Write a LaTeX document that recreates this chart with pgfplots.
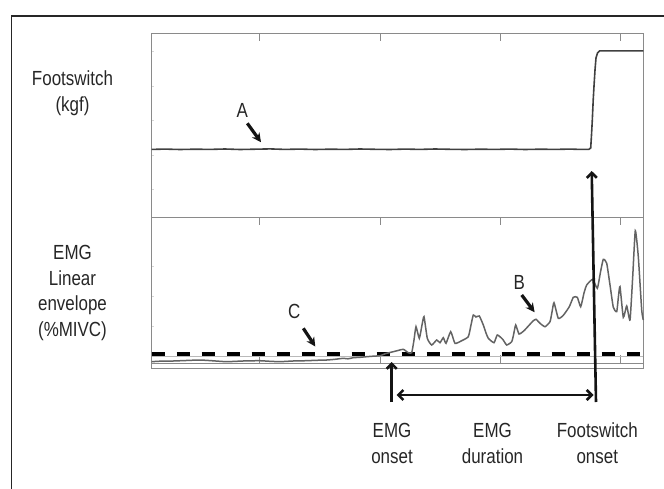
\documentclass[border=0pt]{standalone}
\usepackage{pgfplots}
\pgfplotsset{compat=1.18}
\usepackage{fontspec}
\setmainfont{Liberation Sans}[FakeStretch=0.83]
\usetikzlibrary{arrows.meta}
\definecolor{frame}{HTML}{8A8A8A}
\definecolor{txt}{HTML}{262626}
\definecolor{fsw}{HTML}{404040}
\definecolor{emg}{HTML}{636363}
\begin{document}
\begin{tikzpicture}
\path[use as bounding box] (0,0) rectangle (664bp,-489bp);
% outer frame
\draw[txt, line width=1.3bp] (11.7bp,-489bp) -- (11.7bp,-16bp) -- (664bp,-16bp);
\pgfplotsset{panel/.style={
  scale only axis, width=491.6bp,
  xmin=151.7, xmax=643.3,
  axis line style={draw=frame, line width=1.2bp},
  xtick={259.3,380,500,620.7}, xticklabels={},
  ytick=\empty,
  tick align=inside, major tick length=8bp,
  tick style={draw=frame, line width=1bp},
  clip=false}}
% ---------- top panel: footswitch ----------
\begin{axis}[panel, at={(151.7bp,-33.3bp)}, anchor=north west,
  height=184bp, ymin=-217.3, ymax=-33.3, xtick pos=right]
\addplot[fsw, line width=1.6bp] coordinates {
 (151.7,-149.4) (165,-149.1) (180,-149.5) (195,-149.2) (210,-149.4) (225,-149.0) (240,-149.5)
 (255,-149.2) (270,-148.9) (285,-149.4) (300,-149.1) (315,-149.5) (330,-149.2) (345,-149.4)
 (360,-149.0) (375,-149.3) (390,-149.5) (405,-149.1) (420,-149.4) (435,-149.0) (450,-149.3)
 (465,-149.5) (480,-149.2) (495,-149.4) (510,-149.1) (525,-149.5) (540,-149.2) (555,-149.4)
 (570,-149.1) (580,-149.4) (589,-149.3) (590.7,-148) (591.5,-135) (592.3,-120) (593.2,-100)
 (594,-86) (595,-70) (596,-58) (597.5,-53) (599.5,-50.9) (643.3,-50.8)};
\end{axis}
% ---------- bottom panel: EMG ----------
\begin{axis}[panel, at={(151.7bp,-217.3bp)}, anchor=north west,
  height=146bp, ymin=-363.3, ymax=-217.3, xtick pos=both]
\draw[frame, line width=1.2bp] (axis cs:151.7,-363.3) -- (axis cs:151.7,-368.3)
   -- (axis cs:643.3,-368.3) -- (axis cs:643.3,-363.3);
% threshold lines
\addplot[gray!55, line width=0.8bp] coordinates {(151.7,-356) (643.3,-356)};
\addplot[black, line width=4bp, dash pattern=on 13bp off 12bp] coordinates {(151.7,-354) (643.3,-354)};
% EMG linear envelope
\addplot[emg, line width=1.5bp, smooth, tension=0.3] coordinates {
 (151.7,-361.7) (160,-361.2) (173.3,-361) (186,-360.5) (200,-360) (213,-360.8) (226.7,-361.7)
 (243,-361) (259.3,-360.7) (270,-361.3) (280,-361.7) (293,-361) (306.7,-360.7) (316,-360.3)
 (326.7,-360) (335,-359.3) (343.3,-358.3) (348,-358.8) (353.3,-357.7) (360,-357.3)
 (366.7,-356.7) (373,-356.2) (380,-355.7) (386,-353.5) (393.3,-351.7) (398,-350.5)
 (403.3,-349.3) (408.3,-352.7) (411.7,-352.7) (414,-340) (416,-326.7) (419.3,-338.3)
 (422,-325) (424,-316.7) (427.3,-338.3) (431.7,-345) (436.7,-340) (440,-342.7)
 (443.3,-337.7) (446,-343.3) (450.7,-331.7) (455,-343.3) (461.7,-340.7) (468.3,-336.7)
 (471,-325) (473.3,-315) (476,-317) (479.3,-316) (483.3,-325) (486,-333) (488.3,-338.3)
 (494,-342.7) (497.3,-335) (502.7,-339.3) (506.7,-345) (511.7,-341.7) (513.5,-335)
 (515.7,-325) (519,-334) (524,-330.7) (529.3,-325) (533,-321) (536,-319.3) (540,-323.3)
 (545,-326.7) (550,-321.7) (552,-312) (554,-302.7) (558.3,-318.3) (563.3,-315.3)
 (569.3,-306.7) (573.3,-297.3) (577.3,-297.3) (580.7,-306.7) (584,-293) (586.7,-285)
 (592.7,-279.3) (597.3,-288.3) (600.5,-272) (603.3,-259.3) (606.7,-263.3) (610,-285)
 (613.3,-307.3) (616.7,-311.7) (618.5,-296) (620,-286.7) (623.3,-317.3) (626.7,-306)
 (630,-320) (632.7,-276.7) (635.3,-230.7) (638.3,-256.7) (641.7,-310) (643.3,-320)};
\end{axis}
% faint minor marks on the left borders
\foreach \yy in {51.7,86,120,155,189,266.7,296.7,326}{
  \draw[frame!35, line width=0.5bp] (152.3bp,-\yy bp) -- ++(2bp,0);}
% ---------- annotations ----------
\begin{scope}[txt, font=\fontsize{20.5}{26}\selectfont]
\node[anchor=base] at (72.5bp,-85bp) {Footswitch};
\node[anchor=base] at (72.5bp,-111.5bp) {(kgf)};
\node[anchor=base] at (72.5bp,-259bp) {EMG};
\node[anchor=base] at (72.5bp,-285bp) {Linear};
\node[anchor=base] at (72.5bp,-310.5bp) {envelope};
\node[anchor=base] at (72.5bp,-336.5bp) {(\%MIVC)};
\node[anchor=base] at (242.3bp,-117.3bp) {A};
\node[anchor=base] at (519.3bp,-289.3bp) {B};
\node[anchor=base] at (294.3bp,-318.3bp) {C};
\node[anchor=base] at (392bp,-437bp) {EMG};
\node[anchor=base] at (392bp,-463bp) {onset};
\node[anchor=base] at (492.5bp,-437bp) {EMG};
\node[anchor=base] at (492.5bp,-463bp) {duration};
\node[anchor=base] at (597.3bp,-437bp) {Footswitch};
\node[anchor=base] at (597.3bp,-463bp) {onset};
\end{scope}
\begin{scope}[black!92]
\draw[line width=3.2bp, -{Stealth[length=9bp,width=9bp]}] (247.3bp,-123.3bp) -- (261bp,-142.2bp);
\draw[line width=3.2bp, -{Stealth[length=9bp,width=9bp]}] (521.7bp,-295bp) -- (534.6bp,-312.2bp);
\draw[line width=3.2bp, -{Stealth[length=9bp,width=9bp]}] (303.3bp,-328.3bp) -- (315.3bp,-346.5bp);
\draw[line width=2.6bp, -{Straight Barb[length=5bp,width=10bp]}] (596bp,-402bp) -- (591.7bp,-171bp);
\draw[line width=2.6bp, -{Straight Barb[length=5bp,width=10bp]}] (391.7bp,-402bp) -- (391.7bp,-362bp);
\draw[line width=2.6bp, {Straight Barb[length=5bp,width=10bp]}-{Straight Barb[length=5bp,width=10bp]}] (396.5bp,-395bp) -- (593.5bp,-395bp);
\end{scope}
\end{tikzpicture}
\end{document}
